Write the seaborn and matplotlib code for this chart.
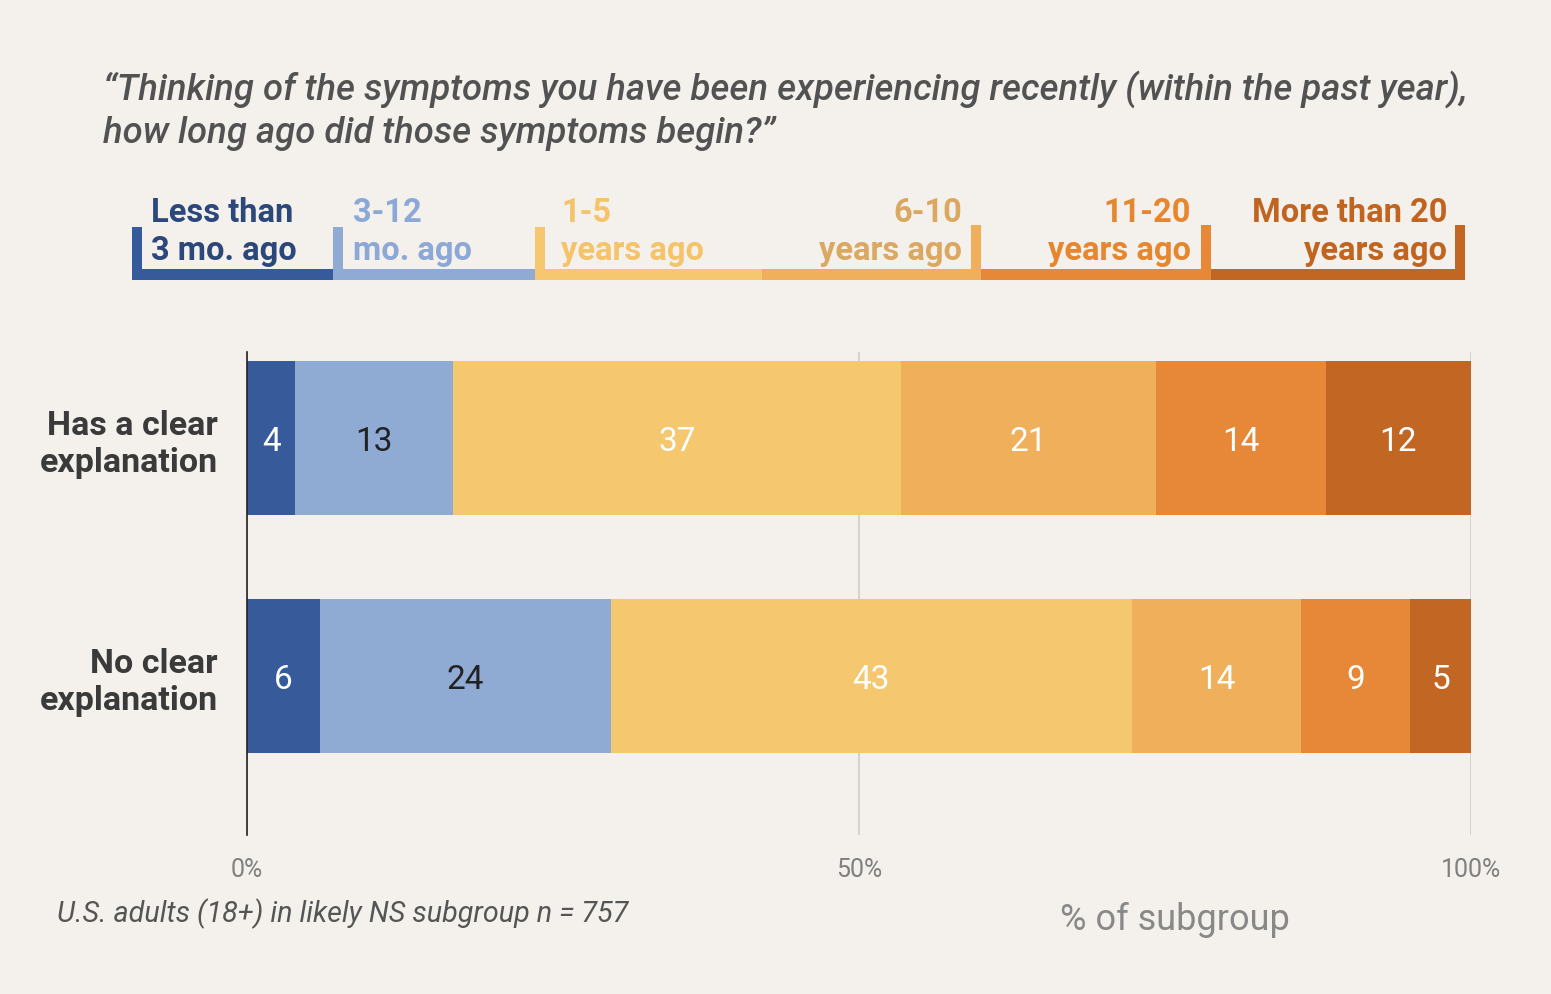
import matplotlib
matplotlib.use("Agg")
import matplotlib.pyplot as plt
import matplotlib.patches as mpatches
import seaborn as sns
import pandas as pd

# Data
groups = ["Has a clear\nexplanation", "No clear\nexplanation"]
periods = ["Less than 3 mo. ago", "3-12 mo. ago", "1-5 years ago",
           "6-10 years ago", "11-20 years ago", "More than 20 years ago"]
clear_expl = [4, 13, 37, 21, 14, 12]
no_clear_expl = [6, 24, 43, 14, 9, 5]
legend_top = ["Less than", "3-12", "1-5", "6-10", "11-20", "More than 20"]
legend_bottom = ["3 mo. ago", "mo. ago", "years ago", "years ago", "years ago", "years ago"]
x_ticks = [0, 50, 100]
x_tick_labels = ["0%", "50%", "100%"]

# Styling
BG = "#f4f1ec"
bar_colors = ["#375b9a", "#8faad3", "#f5c76f", "#f0b05b", "#e68837", "#c26623"]
legend_text_colors = ["#2c4779", "#8ca8d6", "#f5c36a", "#dba862", "#e6862f", "#c0641f"]
value_colors = ["white", "#222222", "white", "white", "white", "white"]

sns.set_theme(style="white")
plt.rcParams["font.family"] = ["Roboto", "DejaVu Sans"]

# Prepare data: labels are rounded, so rows add to 101 -> scale each row to 100%
df = pd.DataFrame([clear_expl, no_clear_expl], index=groups, columns=periods)
shares = df.div(df.sum(axis=1), axis=0) * 100
cum = shares.cumsum(axis=1)
long = cum.reset_index(names="group").melt(id_vars="group", var_name="period", value_name="cum")

fig = plt.figure(figsize=(15.51, 9.95), dpi=100, facecolor=BG)
ax = fig.add_axes([247 / 1551, 1 - 836 / 995, 1224 / 1551, 483 / 995])
ax.set_facecolor(BG)

# Stacked bars: draw cumulative totals from the last segment to the first
for j in reversed(range(len(periods))):
    sub = long[long["period"] == periods[j]]
    sns.barplot(data=sub, x="cum", y="group", orient="h", order=groups,
                color=bar_colors[j], saturation=1, width=0.647,
                errorbar=None, linewidth=0, ax=ax)

# Value labels in the middle of each segment
for i, g in enumerate(groups):
    for j, p in enumerate(periods):
        xc = cum.loc[g, p] - shares.loc[g, p] / 2
        ax.text(xc, i + 0.05, str(df.loc[g, p]), ha="center", va="baseline",
                fontsize=24, color=value_colors[j])

ax.set_xlim(0, 100)
ax.set_ylim(1.668, -0.361)
ax.set_xticks(x_ticks, x_tick_labels)
ax.set_yticks([0, 1], groups)
ax.set_xlabel("")
ax.set_ylabel("")
ax.tick_params(axis="x", length=0, pad=16, labelsize=18, labelcolor="#808080")
ax.tick_params(axis="y", length=0, pad=21, labelsize=24.5, labelcolor="#3a3a3a")
for lbl in ax.get_yticklabels():
    lbl.set_fontweight("bold")
    lbl.set_va("center_baseline")
ax.grid(axis="x", color="#cccccc", linewidth=1.2)
ax.set_axisbelow(True)
for side in ["top", "right", "bottom"]:
    ax.spines[side].set_visible(False)
ax.spines["left"].set_color("#222222")
ax.spines["left"].set_linewidth(1.2)

# Overlay in pixel coordinates for title, bracket legend and notes
ov = fig.add_axes([0, 0, 1, 1])
ov.set_xlim(0, 1551)
ov.set_ylim(995, 0)
ov.axis("off")

title_kw = dict(fontsize=26.3, style="italic", fontweight="medium", color="#525252", va="baseline")
ov.text(103, 100, "\u201cThinking of the symptoms you have been experiencing recently (within the past year),", **title_kw)
ov.text(103, 143, "how long ago did those symptoms begin?\u201d", **title_kw)

seg_edges = [132, 333, 535, 762, 981, 1211, 1465]
text_x = [151, 353, 561, 962, 1191, 1447]
for j in range(len(periods)):
    left, right = seg_edges[j], seg_edges[j + 1]
    ov.add_patch(mpatches.Rectangle((left, 270), right - left, 11, color=bar_colors[j], lw=0))
    if j < 3:
        ov.add_patch(mpatches.Rectangle((left, 228), 10, 53, color=bar_colors[j], lw=0))
        ha = "left"
    else:
        ov.add_patch(mpatches.Rectangle((right - 10, 226), 10, 55, color=bar_colors[j], lw=0))
        ha = "right"
    ov.text(text_x[j], 222, legend_top[j], ha=ha, va="baseline", fontsize=23.5,
            fontweight="bold", color=legend_text_colors[j])
    ov.text(text_x[j], 260, legend_bottom[j], ha=ha, va="baseline", fontsize=23.5,
            fontweight="bold", color=legend_text_colors[j])

ov.text(57, 922, "U.S. adults (18+) in likely NS subgroup n = 757", fontsize=20.7,
        style="italic", color="#555555", va="baseline")
ov.text(1060, 930, "% of subgroup", fontsize=26, color="#888888", va="baseline")

fig.savefig("out.png", dpi=100, facecolor=BG)
